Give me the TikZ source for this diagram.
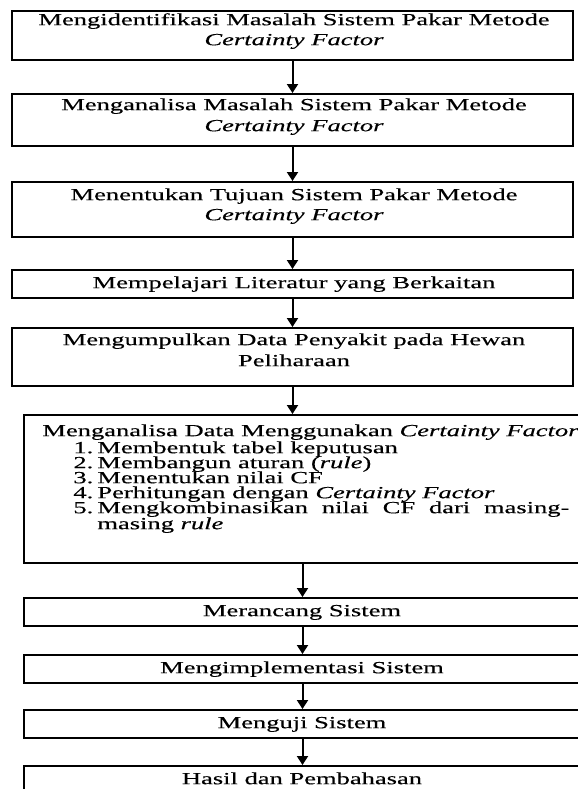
\documentclass[tikz,border=0pt]{standalone}
\usepackage{fontspec}
\setmainfont{Liberation Serif}[ItalicFont={Liberation Serif Italic},ItalicFeatures={FakeStretch=1.56,FakeBold=0.3},UprightFeatures={FakeStretch=1.56,FakeBold=0.3}]
\usetikzlibrary{arrows.meta}
\begin{document}
\begin{tikzpicture}[x=0.5pt,y=-0.5pt,
  box/.style={draw=black, line width=1pt, inner sep=0pt, rectangle},
  upbox/.style={box, minimum width=280.5pt},
  lowbox/.style={box, minimum width=278.5pt},
  txt/.style={inner sep=0pt, font=\fontsize{8.5pt}{10pt}\selectfont, text height=5.8pt, text depth=1.6pt},
  ltxt/.style={txt, anchor=west},
  arr/.style={line width=1pt, -{Triangle[width=5.5pt,length=4.5pt]}}]
\useasboundingbox (0,0) rectangle (578,789);
\clip (0,0) rectangle (578,789);
% boxes
\node[upbox, minimum height=24.5pt] (b1) at (292.5,35.5) {};
\node[upbox, minimum height=26pt] (b2) at (292.5,120) {};
\node[upbox, minimum height=27.5pt] (b3) at (292.5,209.5) {};
\node[upbox, minimum height=14pt] (b4) at (292.5,284) {};
\node[upbox, minimum height=29pt] (b5) at (292.5,357) {};
\node[lowbox, minimum height=74pt] (b6) at (302.5,489) {};
\node[lowbox, minimum height=14pt] (b7) at (302.5,612) {};
\node[lowbox, minimum height=14pt] (b8) at (302.5,669) {};
\node[lowbox, minimum height=14pt] (b9) at (302.5,724) {};
\node[lowbox, minimum height=22pt] (b10) at (302.5,788) {};
% texts
\node[txt] (t1a) at (294,21) {Mengidentifikasi Masalah Sistem Pakar Metode};
\node[txt] (t1b) at (294,41) {\textit{Certainty Factor}};
\node[txt] (t2a) at (294,106) {Menganalisa Masalah Sistem Pakar Metode};
\node[txt] (t2b) at (294,127) {\textit{Certainty Factor}};
\node[txt] (t3a) at (294,196) {Menentukan Tujuan Sistem Pakar Metode};
\node[txt] (t3b) at (294,216) {\textit{Certainty Factor}};
\node[txt] (t4) at (294,284) {Mempelajari Literatur yang Berkaitan};
\node[txt] (t5a) at (294,341) {Mengumpulkan Data Penyakit pada Hewan};
\node[txt] (t5b) at (294,362) {Peliharaan};
\node[ltxt] (t6) at (42,432) {Menganalisa Data Menggunakan \textit{Certainty Factor}};
\node[ltxt] (i1) at (73,449) {\makebox[12pt][l]{1.}Membentuk tabel keputusan};
\node[ltxt] (i2) at (73,464) {\makebox[12pt][l]{2.}Membangun aturan (\textit{rule})};
\node[ltxt] (i3) at (73,479) {\makebox[12pt][l]{3.}Menentukan nilai CF};
\node[ltxt] (i4) at (73,494) {\makebox[12pt][l]{4.}Perhitungan dengan \textit{Certainty Factor}};
\node[ltxt] (i5) at (73,509) {\makebox[12pt][l]{5.}\makebox[236pt][s]{Mengkombinasikan nilai CF dari masing-}};
\node[ltxt] (i5b) at (97,525) {masing \textit{rule}};
\node[txt] (t7) at (302,612) {Merancang Sistem};
\node[txt] (t8) at (302,669) {Mengimplementasi Sistem};
\node[txt] (t9) at (302,724) {Menguji Sistem};
\node[txt] (t10) at (302,780) {Hasil dan Pembahasan};
% arrows
\draw[arr] (b1.south) -- (b2.north);
\draw[arr] (b2.south) -- (b3.north);
\draw[arr] (b3.south) -- (b4.north);
\draw[arr] (b4.south) -- (b5.north);
\draw[arr] (b5.south) -- (b5.south |- b6.north);
\draw[arr] (b6.south) -- (b7.north);
\draw[arr] (b7.south) -- (b8.north);
\draw[arr] (b8.south) -- (b9.north);
\draw[arr] (b9.south) -- (b10.north);
\end{tikzpicture}
\end{document}
